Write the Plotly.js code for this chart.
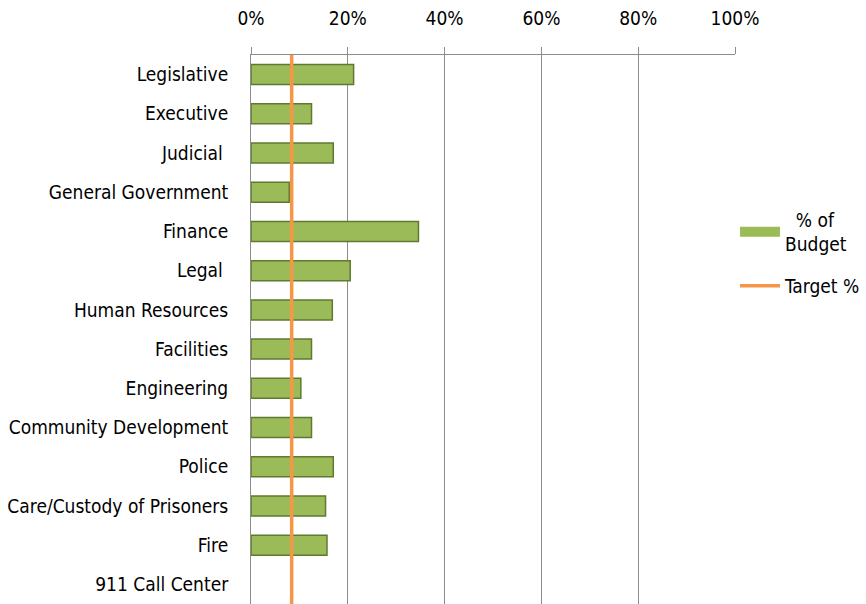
<!DOCTYPE html>
<html>
<head>
<meta charset="utf-8">
<script src="https://cdn.plot.ly/plotly-3.0.1.min.js"></script>
<style>html,body{margin:0;padding:0;background:#fff;}#chart{width:866px;height:604px;}</style>
</head>
<body>
<div id="chart"></div>
<script>
const categories = ["Legislative", "Executive", "Judicial ", "General Government", "Finance", "Legal ", "Human Resources", "Facilities", "Engineering", "Community Development", "Police", "Care/Custody of Prisoners", "Fire", "911 Call Center"];
const budgetPct = [21.2, 12.5, 17.0, 7.9, 34.6, 20.5, 16.8, 12.5, 10.3, 12.5, 17.0, 15.4, 15.7, 0];
const targetPct = [8.4, 8.4];
const targetSpan = [0, 1];
const tickVals = [0, 20, 40, 60, 80, 100];
const tickText = ["0%", "20%", "40%", "60%", "80%", "100%"];

const font = "DejaVu Sans Condensed, Liberation Sans Narrow, sans-serif";

const data = [
  {
    type: "bar", orientation: "h",
    name: "% of<br>Budget",
    x: budgetPct, y: categories,
    marker: {color: "#9bbb59", line: {color: "#5f7a30", width: budgetPct.map(v => v > 0 ? 1.5 : 0)}},
    showlegend: false,
    hoverinfo: "x+y"
  },
  {
    type: "scatter", mode: "lines",
    name: "  % of<br>Budget",
    x: [null], y: [null],
    line: {color: "#9bbb59", width: 14},
    legendgroup: "a",
    showlegend: true
  },
  {
    type: "scatter", mode: "lines",
    name: "Target %",
    x: targetPct, y: targetSpan, yaxis: "y2",
    legendgroup: "b",
    line: {color: "#f79646", width: 3.5}
  }
];

const layout = {
  width: 866, height: 604,
  margin: {l: 251, r: 130, t: 55, b: 0},
  paper_bgcolor: "#fff", plot_bgcolor: "#fff",
  font: {family: font, size: 19, color: "#000"},
  bargap: 0.49,
  showlegend: true,
  legend: {x: 1.0, y: 0.735, xanchor: "left", yanchor: "top", font: {family: font, size: 19}, itemwidth: 40, tracegroupgap: 14, bgcolor: "rgba(0,0,0,0)"},
  xaxis: {
    side: "top", range: [0, 100], tickvals: tickVals, ticktext: tickText,
    showgrid: true, gridcolor: "#8c8c8c", gridwidth: 1,
    showline: true, linecolor: "#8c8c8c", linewidth: 1,
    ticks: "outside", ticklen: 7, tickcolor: "#8c8c8c",
    ticklabelstandoff: 14, zeroline: false, fixedrange: true
  },
  yaxis: {
    autorange: "reversed", type: "category",
    showline: true, linecolor: "#8c8c8c", linewidth: 1,
    showgrid: false, zeroline: false, ticks: "",
    ticklabelstandoff: 18, fixedrange: true
  },
  yaxis2: {
    overlaying: "y", range: [0, 1], visible: false, showgrid: false, zeroline: false, fixedrange: true
  }
};

Plotly.newPlot("chart", data, layout, {displayModeBar: false, staticPlot: true});
</script>
</body>
</html>
